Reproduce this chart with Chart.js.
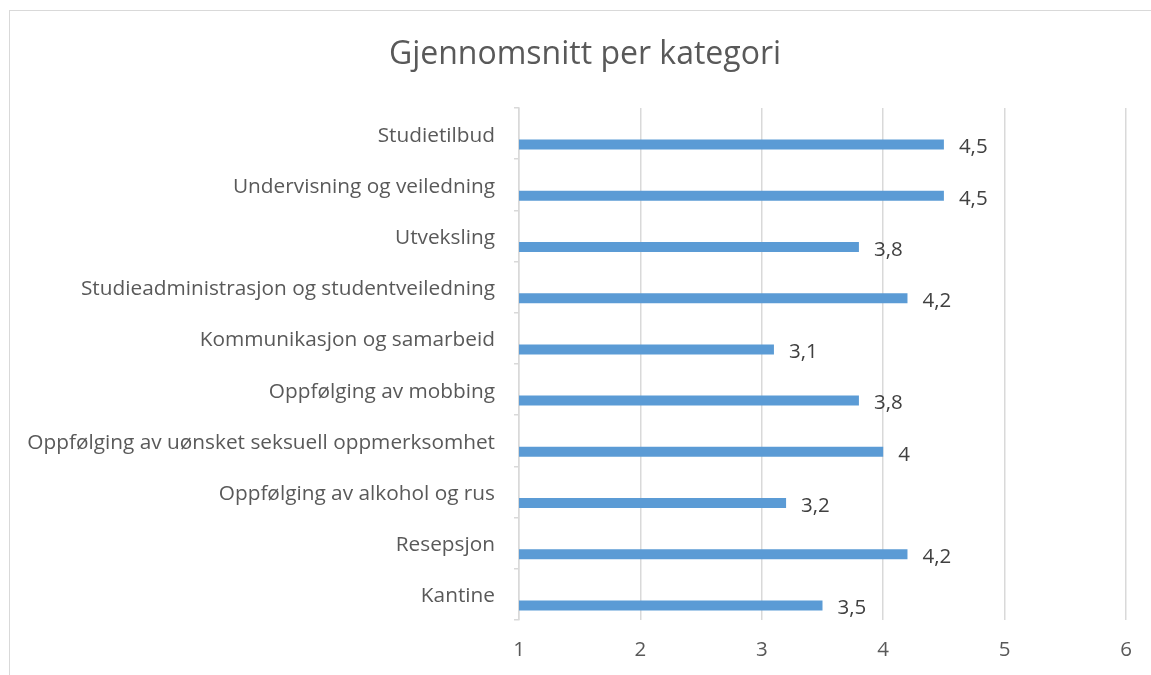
<!DOCTYPE html>
<html>
<head>
<meta charset="utf-8">
<script src="https://cdn.jsdelivr.net/npm/chart.js@4/dist/chart.umd.min.js"></script>
<style>
  html, body { margin: 0; padding: 0; background: #fff; overflow: hidden; }
  #wrap { position: relative; width: 1151px; height: 675px; }
  #frame { position: absolute; left: 9px; top: 10px; width: 1200px; height: 700px; border: 1px solid #d9d9d9; box-sizing: border-box; }
  canvas { position: absolute; left: 0; top: 0; }
</style>
</head>
<body>
<div id="wrap">
  <div id="frame"></div>
  <canvas id="c" width="1151" height="675"></canvas>
</div>
<script>
const titleText = 'Gjennomsnitt per kategori';
const categories = [
  'Studietilbud',
  'Undervisning og veiledning',
  'Utveksling',
  'Studieadministrasjon og studentveiledning',
  'Kommunikasjon og samarbeid',
  'Oppfølging av mobbing',
  'Oppfølging av uønsket seksuell oppmerksomhet',
  'Oppfølging av alkohol og rus',
  'Resepsjon',
  'Kantine'
];
const averages = [4.5, 4.5, 3.8, 4.2, 3.1, 3.8, 4.0, 3.2, 4.2, 3.5];
const emptySeries = categories.map(() => null);
const xTicks = [1, 2, 3, 4, 5, 6];

const FONT = "'Open Sans', 'Noto Sans', sans-serif";

const valueLabels = {
  id: 'valueLabels',
  afterDatasetsDraw(chart) {
    const ctx = chart.ctx;
    const meta = chart.getDatasetMeta(1);
    ctx.save();
    ctx.font = '20.5px ' + FONT;
    ctx.fillStyle = '#404040';
    ctx.textAlign = 'left';
    ctx.textBaseline = 'middle';
    meta.data.forEach((el, i) => {
      const v = chart.data.datasets[1].data[i];
      ctx.fillText(String(v).replace('.', ','), el.x + 15, el.y + 3);
    });
    ctx.restore();
  }
};

const centeredTitle = {
  id: 'centeredTitle',
  afterDraw(chart) {
    const ctx = chart.ctx;
    ctx.save();
    ctx.font = '32px ' + FONT;
    ctx.fillStyle = '#595959';
    ctx.textAlign = 'center';
    ctx.textBaseline = 'middle';
    ctx.fillText(titleText, 585, 55);
    ctx.restore();
  }
};

new Chart(document.getElementById('c'), {
  type: 'bar',
  data: {
    labels: categories,
    datasets: [
      { label: 'tom', data: emptySeries, backgroundColor: '#5b9bd5' },
      { label: 'Gjennomsnitt', data: averages, backgroundColor: '#5b9bd5' }
    ]
  },
  options: {
    indexAxis: 'y',
    responsive: false,
    animation: false,
    events: [],
    categoryPercentage: 0.86,
    barPercentage: 0.455,
    layout: { padding: { left: 0, right: 25, top: 108, bottom: 0 } },
    plugins: {
      legend: { display: false },
      tooltip: { enabled: false },
      title: { display: false }
    },
    scales: {
      x: {
        type: 'linear',
        min: xTicks[0],
        max: xTicks[xTicks.length - 1],
        afterBuildTicks(scale) { scale.ticks = xTicks.map(v => ({ value: v })); },
        afterFit(scale) { scale.height = 55; },
        grid: { color: '#d9d9d9', lineWidth: 1.5, drawTicks: false },
        border: { display: false },
        ticks: { color: '#595959', font: { family: FONT, size: 20.5 }, padding: 18 }
      },
      y: {
        afterFit(scale) { scale.width = 519; },
        grid: { drawOnChartArea: false, drawTicks: true, tickLength: 5, color: '#d9d9d9', lineWidth: 1.5 },
        border: { display: true, color: '#d9d9d9', width: 1.5 },
        ticks: { color: '#595959', font: { family: FONT, size: 20.8 }, padding: 19, labelOffset: 2 }
      }
    }
  },
  plugins: [valueLabels, centeredTitle]
});
</script>
</body>
</html>
